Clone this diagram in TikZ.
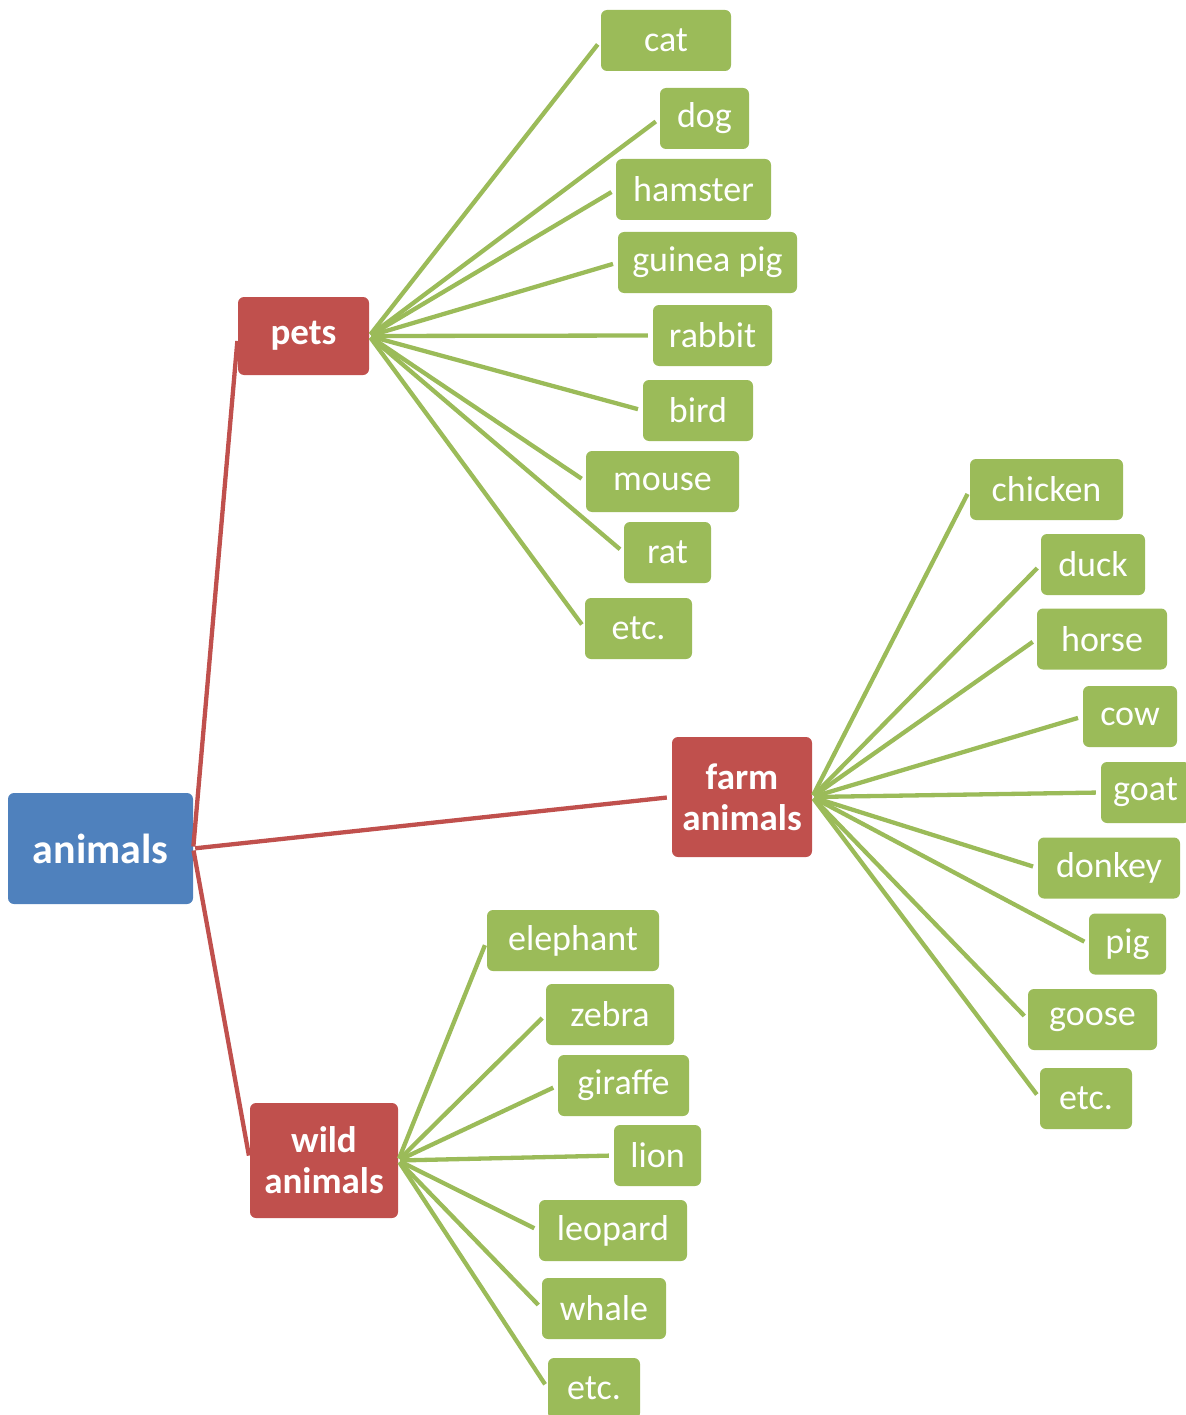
\documentclass[tikz,border=0pt]{standalone}
\usepackage{fontspec}
\setmainfont{Carlito}
\definecolor{cblue}{HTML}{4F81BD}
\definecolor{cred}{HTML}{C0504D}
\definecolor{cgreen}{HTML}{9BBB59}
\begin{document}
\begin{tikzpicture}[x=1pt,y=-1pt,
  box/.style={rounded corners=6pt,text=white,inner sep=0pt,align=center},
  rootbox/.style={box,fill=cblue,font=\fontsize{42}{46}\selectfont\bfseries},
  midbox/.style={box,fill=cred,font=\fontsize{37}{41}\selectfont\bfseries},
  leafbox/.style={box,fill=cgreen,minimum height=61pt,font=\fontsize{36}{40}\selectfont},
  redline/.style={draw=cred,line width=4.3pt,shorten >=5pt,shorten <=2pt},
  greenline/.style={draw=cgreen,line width=4.3pt,shorten >=5pt,shorten <=2pt}]
\useasboundingbox (0,0) rectangle (1185,1415);
% root and categories
\node[rootbox,minimum width=185pt,minimum height=111pt] (animals) at (100.5,848.5) {animals};
\node[midbox,minimum width=131pt,minimum height=78pt] (pets) at (303.5,336) {pets};
\node[midbox,minimum width=140pt,minimum height=120pt] (farm) at (742,797) {farm\\animals};
\node[midbox,minimum width=148pt,minimum height=115pt] (wild) at (324,1160.5) {wild\\animals};
% pets leaves
\node[leafbox,minimum width=130pt] (cat) at (666,40.5) {cat};
\node[leafbox,minimum width=89pt] (dog) at (704.5,118.5) {dog};
\node[leafbox,minimum width=155pt] (hamster) at (693.5,189.5) {hamster};
\node[leafbox,minimum width=179pt] (guinea) at (707.5,262.5) {guinea pig};
\node[leafbox,minimum width=119pt] (rabbit) at (712.5,335.5) {rabbit};
\node[leafbox,minimum width=110pt] (bird) at (698,410.5) {bird};
\node[leafbox,minimum width=153pt] (mouse) at (662.5,481.5) {mouse};
\node[leafbox,minimum width=87pt] (rat) at (667.5,552.5) {rat};
\node[leafbox,minimum width=107pt] (etcp) at (638.5,628.5) {etc.};
% farm leaves
\node[leafbox,minimum width=153pt] (chicken) at (1046.5,489.5) {chicken};
\node[leafbox,minimum width=104pt] (duck) at (1093,564.5) {duck};
\node[leafbox,minimum width=130pt] (horse) at (1102,639) {horse};
\node[leafbox,minimum width=94pt] (cow) at (1130,716.5) {cow};
\node[leafbox,minimum width=89pt] (goat) at (1145.5,792.5) {goat};
\node[leafbox,minimum width=142pt] (donkey) at (1109,868) {donkey};
\node[leafbox,minimum width=77pt] (pig) at (1127.5,944) {pig};
\node[leafbox,minimum width=129pt] (goose) at (1092.5,1019.5) {goose};
\node[leafbox,minimum width=92pt] (etcf) at (1086,1098.5) {etc.};
% wild leaves
\node[leafbox,minimum width=172pt] (elephant) at (573,940.5) {elephant};
\node[leafbox,minimum width=128pt] (zebra) at (610,1014.5) {zebra};
\node[leafbox,minimum width=131pt] (giraffe) at (623.5,1085.5) {giraffe};
\node[leafbox,minimum width=87pt] (lion) at (657.5,1155.5) {lion};
\node[leafbox,minimum width=148pt] (leopard) at (613,1230.5) {leopard};
\node[leafbox,minimum width=124pt] (whale) at (604,1308.5) {whale};
\node[leafbox,minimum width=92pt] (etcw) at (594,1388.5) {etc.};
% connectors
\foreach \c in {pets,farm,wild} \draw[redline] (animals.east) -- (\c.west);
\foreach \c in {cat,dog,hamster,guinea,rabbit,bird,mouse,rat,etcp} \draw[greenline] (pets.east) -- (\c.west);
\foreach \c in {chicken,duck,horse,cow,goat,donkey,pig,goose,etcf} \draw[greenline] (farm.east) -- (\c.west);
\foreach \c in {elephant,zebra,giraffe,lion,leopard,whale,etcw} \draw[greenline] (wild.east) -- (\c.west);
\end{tikzpicture}
\end{document}
